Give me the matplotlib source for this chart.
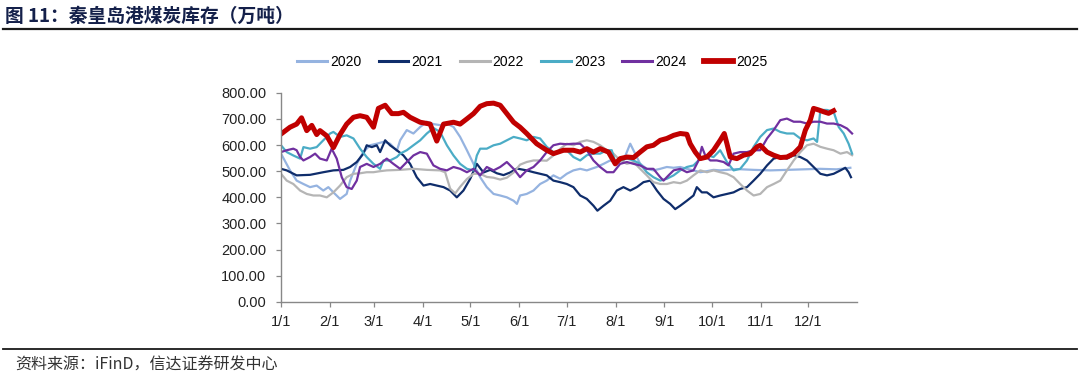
import matplotlib
matplotlib.use('Agg')
import matplotlib.pyplot as plt
from matplotlib.lines import Line2D

plt.rcParams['font.family'] = ['Liberation Sans', 'Noto Sans CJK SC', 'DejaVu Sans']

# 日期（一年中的第几天）与库存（万吨）
d2020 = [0, 5.7, 9.9, 14.2, 18.4, 22.6, 26.8, 30, 33.2, 37.4, 41.6, 43.8, 48, 52.2, 56.4, 60.7, 64.9, 69.1,
         73.4, 75.5, 79.7, 83.9, 88.2, 92.4, 96.6, 100.8, 105.1, 109.3, 113.5, 117.8, 122, 126.2, 130.4,
         134.7, 138.9, 143.1, 147.4, 149.5, 151.5, 155.7, 160, 164.2, 168.4, 172.6, 176.9, 181.1, 185.3,
         189.6, 193.8, 200.1, 204.4, 208.6, 212.8, 217, 221.3, 224.4, 227.6, 231.8, 236, 240.3, 244.5,
         248.8, 253, 257.2, 261.4, 265.7, 269.9, 274.1, 278.3, 282.6, 288.9, 299.5, 310, 320.6, 331,
         341.8, 352, 360.8]
v2020 = [567, 503, 464, 451, 439, 445, 426, 439, 419, 394, 413, 464, 528, 573, 599, 605, 612, 605,
         578, 618, 657, 644, 669, 689, 680, 676, 682, 669, 631, 580, 528, 477, 439,
         413, 407, 400, 387, 375, 407, 413, 426, 451, 464, 484, 471, 490, 503,
         509, 503, 516, 528, 541, 535, 541, 605, 567, 528, 509, 503, 509, 516,
         513, 516, 509, 503, 496, 500, 505, 503, 505, 508, 505, 503, 505, 507,
         509, 507, 513]

d2021 = [0, 3.6, 9.9, 18.4, 26.8, 33.2, 39.5, 43.8, 48, 52.2, 54.3, 57.5, 60.7, 62.8, 66, 69.1, 73.4,
         77.6, 81.8, 86, 90.3, 94.5, 98.7, 103, 107.2, 111.4, 115.6, 119.9, 124.1, 128.3, 132.6, 136.8,
         141, 145.2, 149.5, 155.7, 160, 164.2, 168.4, 172.6, 176.9, 181.1, 185.3, 189.6, 193.8, 198,
         200.5, 204.4, 208.6, 212.8, 217, 221.3, 225.5, 229.7, 234, 238.2, 242.4, 246.6, 249.8, 253,
         257.2, 261.4, 263.5, 266.7, 269.9, 274.1, 278.3, 282.6, 286.8, 291, 295.3, 299.5, 303.7, 308,
         312.2, 316.4, 320.6, 324.9, 329.1, 333.3, 337.5, 341.8, 346, 350.2, 354.5, 357.6, 359.7, 361.2]
v2021 = [509, 503, 484, 486, 496, 503, 505, 516, 535, 567, 599, 592, 599, 573, 618, 599, 580,
         560, 528, 477, 445, 451, 445, 439, 426, 400, 426, 471, 528, 495, 505, 492,
         485, 495, 510, 503, 496, 490, 484, 464, 458, 451, 439, 407, 394, 368,
         349, 368, 387, 426, 439, 426, 439, 458, 464, 426, 394, 375, 355, 368,
         387, 407, 439, 419, 419, 400, 407, 413, 419, 432, 439, 464, 490, 522,
         548, 554, 548, 561, 554, 541, 516, 490, 484, 490, 503, 513, 496, 477]

d2022 = [0, 3.6, 7.8, 12.1, 16.3, 20.5, 24.7, 29, 33.2, 37.4, 41.6, 45.9, 50.1, 54.3, 58.6, 62.8, 67,
         75.5, 83.9, 92.4, 100.8, 104, 107.2, 110.4, 113.5, 117.8, 122, 126.2, 130.4, 134.7, 138.9,
         143.1, 147.4, 151.5, 155.7, 160, 164.2, 168.4, 172.6, 176.9, 181.1, 185.3, 189.6, 193.8, 198,
         202.2, 206.5, 210.7, 214.9, 219.2, 223.4, 227.6, 231.8, 236, 240.3, 244.5, 248.8, 253, 257.2,
         261.4, 265.7, 269.9, 274.1, 278.3, 282.6, 286.8, 291, 295.3, 299.5, 303.7, 308, 312.2, 316.4,
         320.6, 324.9, 329.1, 333.3, 337.5, 341.8, 346, 350.2, 354.5, 358.7, 361.9]
v2022 = [490, 464, 451, 426, 413, 407, 407, 400, 419, 445, 477, 490, 492, 496, 496, 500, 503,
         505, 509, 505, 503, 496, 433, 415, 440, 470, 490, 490, 478, 475, 468,
         475, 495, 525, 535, 541, 541, 540, 560, 585, 605, 599, 612, 618, 612,
         599, 580, 567, 541, 528, 535, 509, 484, 458, 451, 451, 458, 454, 464,
         484, 503, 496, 503, 496, 490, 477, 451, 426, 407, 413, 439, 451, 464,
         503, 541, 573, 599, 605, 593, 586, 580, 567, 573, 561]

d2023 = [0, 3.6, 7.8, 12.1, 14.2, 18.4, 22.6, 26.8, 31.1, 33.2, 37.4, 41.6, 45.9, 50.1, 54.3, 58.6,
         62.8, 64.9, 69.1, 73.4, 75.5, 79.7, 83.9, 88.2, 92.4, 96.6, 100.8, 105.1, 109.3, 113.5, 117.8,
         122, 124.1, 126.2, 130.4, 134.7, 138.9, 143.1, 147.4, 151.5, 155.7, 160, 164.2, 168.4, 172.6,
         176.9, 181.1, 185.3, 189.6, 193.8, 198, 202.2, 206.5, 209.6, 211.8, 214.9, 219.2, 223.4, 227.6,
         231.8, 236, 240.3, 244.5, 248.8, 253, 257.2, 261.4, 265.7, 269.9, 274.1, 278.3, 282.6, 286.8,
         291, 295.3, 299.5, 303.7, 308, 312.2, 316.4, 320.6, 324.9, 329.1, 333.3, 337.5, 339.7, 341.8,
         346, 350.2, 353.4, 356.6, 359.7, 361.9]
v2023 = [599, 573, 560, 548, 592, 586, 592, 618, 644, 650, 631, 637, 625, 586, 554, 528,
         509, 541, 541, 554, 567, 580, 599, 618, 644, 665, 650, 599, 560, 528, 509,
         503, 560, 586, 586, 599, 605, 618, 631, 625, 618, 631, 625, 593, 573,
         573, 580, 554, 541, 561, 567, 567, 580, 580, 535, 541, 548, 541, 528,
         496, 477, 464, 471, 484, 503, 516, 522, 548, 561, 554, 580, 535, 503,
         509, 541, 593, 631, 657, 663, 650, 644, 644, 625, 618, 625, 612, 734,
         734, 727, 669, 644, 605, 567]

d2024 = [0, 3.6, 7.8, 9.9, 12.1, 14.2, 18.4, 21.6, 24.7, 29, 32.1, 35.3, 38.5, 41.6, 44.8, 48, 50.1,
         54.3, 58.6, 62.8, 67, 71.2, 75.5, 79.7, 83.9, 88.2, 92.4, 96.6, 100.8, 105.1, 109.3, 113.5,
         117.8, 122, 126.2, 130.4, 134.7, 138.9, 143.1, 147.4, 151.5, 155.7, 160, 164.2, 168.4, 172.6,
         176.9, 181.1, 185.3, 189.6, 193.8, 198, 202.2, 206.5, 210.7, 214.9, 219.2, 223.4, 227.6, 231.8,
         236, 240.3, 242.4, 245.6, 248.8, 253, 257.2, 261.4, 264.6, 266.7, 268.8, 272, 276.2, 280.5,
         283.6, 286.8, 291, 295.3, 299.5, 303.7, 308, 312.2, 316.4, 320.6, 324.9, 329.1, 333.3, 337.5,
         341.8, 346, 350.2, 354.5, 358.7, 361.9]
v2024 = [573, 580, 586, 580, 554, 541, 554, 567, 548, 541, 586, 548, 477, 439, 432, 464, 516,
         528, 516, 528, 548, 528, 509, 535, 560, 573, 567, 522, 509, 503, 516, 509,
         496, 509, 484, 516, 503, 516, 535, 509, 477, 503, 516, 541, 573, 599,
         605, 603, 605, 605, 580, 541, 516, 496, 496, 528, 535, 528, 522, 509,
         509, 477, 464, 484, 503, 509, 496, 503, 541, 593, 561, 541, 541, 535,
         522, 567, 573, 573, 580, 580, 625, 657, 695, 701, 689, 689, 682, 689,
         689, 682, 682, 676, 663, 644]

d2025 = [0, 5.7, 9.9, 13, 16.3, 19.5, 22.6, 24.7, 29, 33.2, 37.4, 41.6, 45.9, 50.1, 54.3, 58.6, 61.7,
         66, 70.2, 74.4, 77.6, 81.8, 88.2, 94.5, 98.7, 103, 109.3, 113.5, 117.8, 122, 126.2, 130.4,
         134.7, 138.9, 143.1, 147.4, 151.5, 155.7, 162, 168.4, 172.6, 179, 185.3, 189.6, 193.8, 198,
         202.2, 207.5, 211.8, 214.9, 219.2, 223.4, 227.6, 231.8, 236, 240.3, 244.5, 248.8, 253, 257.2,
         259.3, 262.5, 265.7, 269.9, 274.1, 278.3, 280.9, 282.6, 284.7, 288.9, 293.1, 297.4, 301.6,
         303.7, 308, 312.2, 316.4, 320.6, 324.9, 329.1, 332.3, 335.4, 337.5, 340.7, 343.9, 347, 350.2]
v2025 = [642, 668, 680, 704, 655, 675, 640, 655, 635, 590, 640, 680, 706, 712, 706, 668, 740,
         752, 720, 720, 725, 706, 687, 680, 615, 680, 687, 680, 700, 720, 748, 758,
         760, 752, 720, 687, 668, 644, 605, 580, 567, 580, 580, 573, 586, 573,
         586, 573, 528, 548, 554, 552, 573, 593, 599, 618, 625, 637, 644, 641,
         605, 573, 548, 554, 580, 618, 644, 605, 554, 548, 561, 567, 593,
         599, 573, 561, 552, 554, 567, 593, 657, 695, 740, 734, 727, 721, 731]

years = ['2020', '2021', '2022', '2023', '2024', '2025']
colors = ['#95B3E0', '#0F2D6B', '#B5B5B5', '#4BACC6', '#7030A0', '#C00000']
widths = [1.6, 1.6, 1.6, 1.6, 1.6, 3.6]

month_days = [0, 31, 59, 90, 120, 151, 181, 212, 243, 273, 304, 334]
month_labels = ['1/1', '2/1', '3/1', '4/1', '5/1', '6/1', '7/1', '8/1', '9/1', '10/1', '11/1', '12/1']

fig = plt.figure(figsize=(10.8, 3.78), dpi=100)
ax = fig.add_axes([0.2602, 0.2011, 0.5333, 0.5537])

series = [(d2020, v2020), (d2021, v2021), (d2022, v2022), (d2023, v2023), (d2024, v2024), (d2025, v2025)]
for (d, v), name, c, lw in zip(series, years, colors, widths):
    ax.plot(d, v, color=c, lw=lw, label=name, solid_joinstyle='round')

ax.set_xlim(0, 365)
ax.set_ylim(0, 800)
ax.set_yticks(range(0, 801, 100))
ax.set_yticklabels([f'{y:.2f}' for y in range(0, 801, 100)])
ax.set_xticks(month_days)
ax.set_xticklabels(month_labels)
ax.tick_params(axis='both', labelsize=10.5, length=3.5, width=0.9, direction='out',
               colors='#888888', labelcolor='#222222')
ax.tick_params(axis='x', pad=6)
ax.tick_params(axis='y', pad=7)
for s in ['top', 'right']:
    ax.spines[s].set_visible(False)
for s in ['left', 'bottom']:
    ax.spines[s].set_color('#888888')
    ax.spines[s].set_linewidth(1.0)

handles = [Line2D([], [], color=c, lw=(2.2 if lw < 3 else 4.2)) for c, lw in zip(colors, widths)]
fig.legend(handles, years, loc='center', bbox_to_anchor=(0.493, 0.836), ncol=6, frameon=False,
           fontsize=10, handlelength=2.15, handletextpad=0.2, columnspacing=1.25)

# 标题、分隔线和来源
fig.text(0.005, 1 - 16 / 378, '图 11：秦皇岛港煤炭库存（万吨）', fontsize=13.5, fontweight='bold',
         color='#14204A', va='center', ha='left', family=['Noto Sans CJK SC', 'DejaVu Sans'])
fig.add_artist(Line2D([0.003, 0.997], [1 - 29 / 378, 1 - 29 / 378], color='#1a1a1a', lw=1.6))
fig.add_artist(Line2D([0.003, 0.997], [1 - 349 / 378, 1 - 349 / 378], color='#1a1a1a', lw=1.3))
fig.text(0.014, 1 - 365 / 378, '资料来源：iFinD，信达证券研发中心', fontsize=11.5, color='#333333',
         va='center', ha='left', family=['Noto Sans CJK SC', 'DejaVu Sans'])

fig.savefig('out.png', dpi=100)
